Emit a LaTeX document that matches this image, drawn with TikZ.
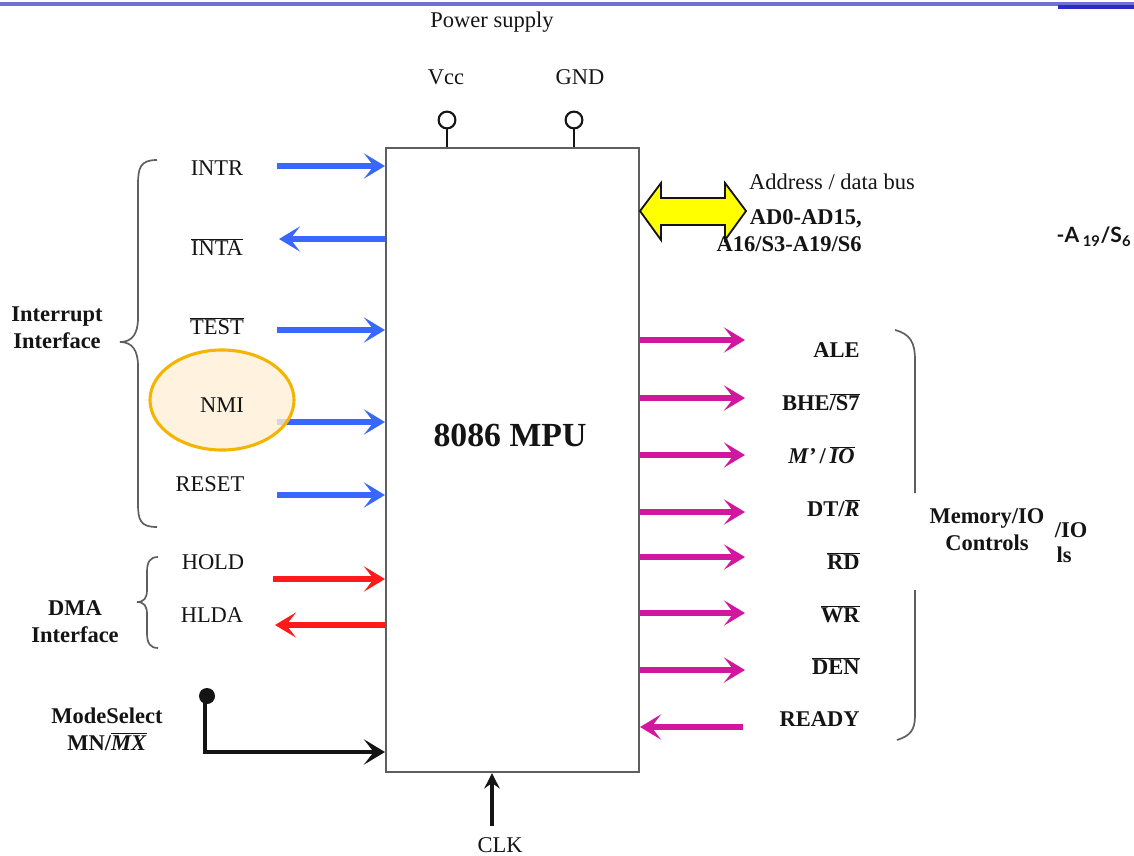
\documentclass[tikz,border=0pt]{standalone}
\usepackage{fontspec}
\setmainfont{Liberation Serif}
\newfontfamily\slidesans{Lato}
\usepackage{xcolor}
\usetikzlibrary{arrows.meta, shapes.geometric}
\definecolor{chipink}{HTML}{141414}
\definecolor{chipframe}{HTML}{5F5F5F}
\definecolor{intblue}{HTML}{3868FF}
\definecolor{dmared}{HTML}{FF1A1A}
\definecolor{ctrlmag}{HTML}{D2169E}
\definecolor{busyellow}{HTML}{FFFF00}
\definecolor{ringorange}{HTML}{F5B400}
\definecolor{ringfill}{HTML}{FFEFD6}
\definecolor{ruleblue}{HTML}{7070D8}
\definecolor{ruledark}{HTML}{2B2BC8}
\newcommand{\ovl}[1]{$\overline{\mbox{#1}}$}

\begin{document}
\begin{tikzpicture}[x=0.025cm, y=-0.025cm,
                    >={Stealth[length=15pt,width=18pt,inset=7pt]},
                    every node/.style={chipink, font=\fontsize{16}{19}\selectfont,
                                       inner sep=0pt, align=center},
                    sigblue/.style={intblue, line width=4.2pt, ->},
                    sigred/.style={dmared, line width=4.2pt, ->},
                    sigmag/.style={ctrlmag, line width=3.8pt, ->},
                    bracestroke/.style={chipframe, line width=1.2pt}]

  \useasboundingbox (0,0) rectangle (1134,856);

  %% 頂部的藍線
  \draw[ruleblue, line width=2.2pt] (0,4) -- (1134,4);
  \draw[ruledark, line width=2.5pt] (1058,7) -- (1134,7);

  %% ---- 晶片本體 ----
  \node[draw=chipframe, line width=1.4pt, minimum width=6.325cm,
        minimum height=15.6cm] (mpu) at (512.5,460) {};
  \node[font=\fontsize{24}{28}\selectfont\bfseries] (mpuname) at (510,435) {8086 MPU};

  %% ---- 電源腳 ----
  \node (power) at (492,22) {Power supply};
  \node (vcc) at (446,77) {Vcc};
  \node (gnd) at (580,77) {GND};
  \node[draw=chipink, circle, line width=1.5pt, minimum size=0.42cm] (vccpin) at (447,120) {};
  \node[draw=chipink, circle, line width=1.5pt, minimum size=0.42cm] (gndpin) at (574,120) {};
  \draw[chipink, line width=1.2pt] (vccpin) -- (vccpin |- mpu.north);
  \draw[chipink, line width=1.2pt] (gndpin) -- (gndpin |- mpu.north);

  %% ---- 左側: 中斷介面 ----
  \coordinate (intrend) at (277,166);
  \coordinate (intaend) at (279,239);
  \coordinate (testend) at (277,330);
  \coordinate (nmiend) at (277,422);
  \coordinate (resetend) at (277,495);
  \draw[sigblue] (intrend) -- (intrend -| mpu.west);
  \draw[sigblue] (intaend -| mpu.west) -- (intaend);
  \draw[sigblue] (testend) -- (testend -| mpu.west);
  \draw[sigblue] (nmiend) -- (nmiend -| mpu.west);
  \draw[sigblue] (resetend) -- (resetend -| mpu.west);

  \node[draw=ringorange, fill=ringfill, fill opacity=0.8, line width=2.2pt,
        ellipse, minimum width=3.6cm, minimum height=2.5cm] (nmiring) at (222,400) {};

  \node (intr) at (217,168) {INTR};
  \node (inta) at (217,247) {\ovl{INTA}};
  \node (test) at (217,326) {\ovl{TEST}};
  \node (nmi) at (222,405) {NMI};
  \node (reset) at (210,484) {RESET};

  \draw[bracestroke] (157,160) .. controls (140,160) and (138,168) .. (138,185)
    -- (138,318) .. controls (138,334) and (132,342) .. (120,342)
    .. controls (132,342) and (138,350) .. (138,366)
    -- (138,503) .. controls (138,520) and (140,527) .. (157,527);
  \node[font=\fontsize{16}{19}\selectfont\bfseries] (intgroup) at (57,328)
    {Interrupt\\Interface};

  %% ---- 左側: DMA ----
  \coordinate (holdend) at (273,579);
  \coordinate (hldaend) at (275,625);
  \draw[sigred] (holdend) -- (holdend -| mpu.west);
  \draw[sigred] (hldaend -| mpu.west) -- (hldaend);
  \node (hold) at (213,562) {HOLD};
  \node (hlda) at (212,615) {HLDA};
  \draw[bracestroke] (158,557) .. controls (150,557) and (147,562) .. (147,572)
    -- (147,590) .. controls (147,598) and (144,602) .. (137,602)
    .. controls (144,602) and (147,606) .. (147,614)
    -- (147,633) .. controls (147,643) and (150,648) .. (158,648);
  \node[font=\fontsize{16}{19}\selectfont\bfseries] (dmagroup) at (75,622)
    {DMA\\Interface};

  %% ---- 模式選擇與時脈 ----
  \node[circle, fill=chipink, minimum size=0.4cm] (modedot) at (207,696) {};
  \coordinate (modebend) at (205,752);
  \draw[chipink, line width=3.2pt, ->] (modebend |- modedot.center) -- (modebend)
    -- (modebend -| mpu.west);
  \node[font=\fontsize{16}{19}\selectfont\bfseries] (modesel) at (107,729)
    {ModeSelect\\MN/\ovl{\textit{MX}}};
  \coordinate (clkfoot) at (492,826);
  \draw[chipink, line width=2.2pt, -{Stealth[length=11pt,width=11pt,inset=4pt]}]
    (clkfoot) -- (clkfoot |- mpu.south);
  \node (clk) at (500,845) {CLK};

  %% ---- 右側: 位址/資料匯流排 ----
  \coordinate (busleft) at (mpu.east |- 0,211);
  \draw[chipink, fill=busyellow, line width=1.3pt] (busleft) -- ++(21,-28) -- ++(0,15)
    -- ++(64,0) -- ++(0,-15) -- ++(21,28) -- ++(-21,29) -- ++(0,-15)
    -- ++(-64,0) -- ++(0,15) -- cycle;
  \node (busname) at (832,182) {Address / data bus};
  \node[anchor=east, font=\fontsize{16}{19}\selectfont\bfseries] (busad) at (862,219) {AD0-AD15,};
  \node[anchor=east, font=\fontsize{16}{19}\selectfont\bfseries] (busa) at (862,244) {A16/S3-A19/S6};
  \node[font=\fontsize{15}{18}\selectfont\slidesans\bfseries] (ghosta) at (1094,237)
    {-A\,\textsubscript{19}/S\textsubscript{6}};

  %% ---- 右側: 記憶體/IO 控制 ----
  \coordinate (aleend) at (745,340);
  \coordinate (bheend) at (745,398);
  \coordinate (mioend) at (745,455);
  \coordinate (dtrend) at (745,512);
  \coordinate (rdend) at (745,557);
  \coordinate (wrend) at (745,613);
  \coordinate (denend) at (745,670);
  \coordinate (readyend) at (743,727);
  \draw[sigmag] (aleend -| mpu.east) -- (aleend);
  \draw[sigmag] (bheend -| mpu.east) -- (bheend);
  \draw[sigmag] (mioend -| mpu.east) -- (mioend);
  \draw[sigmag] (dtrend -| mpu.east) -- (dtrend);
  \draw[sigmag] (rdend -| mpu.east) -- (rdend);
  \draw[sigmag] (wrend -| mpu.east) -- (wrend);
  \draw[sigmag] (denend -| mpu.east) -- (denend);
  \draw[sigmag] (readyend) -- (readyend -| mpu.east);

  \begin{scope}[every node/.append style={anchor=east,
                font=\fontsize{16}{19}\selectfont\bfseries}]
    \node (ale) at (860,350) {ALE};
    \node (bhe) at (860,402) {BHE\ovl{/S7}};
    \node (mio) at (855,455) {\textit{M'}\,/\,\ovl{\textit{IO}}};
    \node (dtr) at (860,508) {DT/\ovl{\textit{R}}};
    \node (rd) at (860,561) {\ovl{RD}};
    \node (wr) at (860,614) {\ovl{WR}};
    \node (den) at (860,666) {\ovl{DEN}};
    \node (ready) at (860,719) {READY};
  \end{scope}

  \draw[bracestroke] (895,330) .. controls (910,334) and (915,342) .. (915,360) -- (915,493);
  \draw[bracestroke] (915,590) -- (915,716) .. controls (915,730) and (910,736) .. (897,740);
  \node[font=\fontsize{16}{19}\selectfont\bfseries] (ctrlgroup) at (987,530)
    {Memory/IO\\Controls};
  \node[font=\fontsize{16}{19}\selectfont\bfseries] (ghostio) at (1071,530) {/IO};
  \node[font=\fontsize{16}{19}\selectfont\bfseries] (ghostls) at (1064,555) {ls};

\end{tikzpicture}
\end{document}
